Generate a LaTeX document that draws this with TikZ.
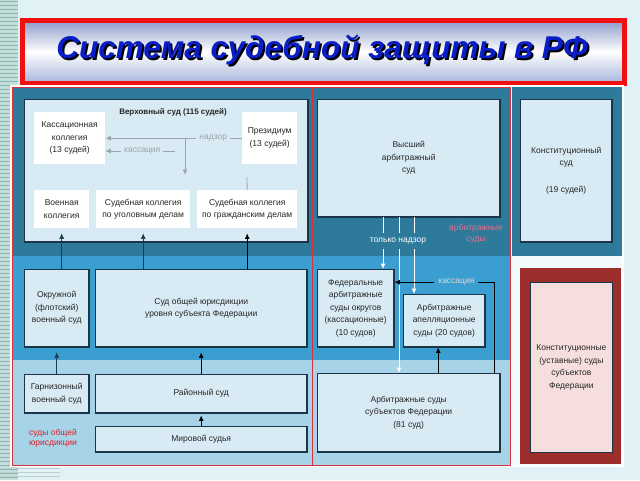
\documentclass[tikz,border=0pt]{standalone}
\usepackage{fontspec}
\setmainfont{Liberation Sans}
\usetikzlibrary{arrows.meta}
\definecolor{bgcyan}{HTML}{E0F2F6}
\definecolor{stripea}{HTML}{C4DEDA}
\definecolor{stripeb}{HTML}{8FB3B0}
\definecolor{bandtop}{HTML}{2D7A9B}
\definecolor{bandmid}{HTML}{3A9FD0}
\definecolor{bandlow}{HTML}{A6D3E8}
\definecolor{palefill}{HTML}{F3FAFC}
\definecolor{boxfill}{HTML}{D8EAF3}
\definecolor{boxline}{HTML}{1A3448}
\definecolor{courtmaroon}{HTML}{9B2D2A}
\definecolor{pinkfill}{HTML}{F6DEDE}
\definecolor{framered}{HTML}{D8303E}
\definecolor{titlered}{HTML}{F01010}
\definecolor{titleblue}{HTML}{0A1EC8}
\definecolor{titletop}{HTML}{8C9CCB}
\definecolor{titlebot}{HTML}{A8B6DC}
\definecolor{greyarrow}{HTML}{9AA4AA}
\definecolor{tealline}{HTML}{183C50}
\definecolor{arbpink}{HTML}{E07090}
\definecolor{obshred}{HTML}{E0202A}
\begin{document}
\begin{tikzpicture}[x=1pt,y=-1pt,>={Latex[length=5.5pt,width=5pt]},
  every node/.style={inner sep=0pt,align=center,text=black!85,font=\fontsize{8.5}{12.5}\selectfont},
  court/.style={anchor=north west,fill=boxfill,draw=boxline,line width=0.4pt,
    path picture={\draw[boxline,line width=2pt] (path picture bounding box.north east)
      -- (path picture bounding box.south east) -- (path picture bounding box.south west);}},
  inner/.style={anchor=north west,fill=white},
  greyline/.style={draw=greyarrow,line width=0.8pt},
  tline/.style={draw=tealline,line width=0.6pt},
  bline/.style={draw=black,line width=0.8pt},
  wline/.style={draw=white,line width=0.8pt}]
\useasboundingbox (0,0) rectangle (640,480);
\fill[bgcyan] (0,0) rectangle (640,480);
% striped edge
\fill[stripea] (0,0) rectangle (18,480);
\foreach \y in {1,5,...,480} \draw[stripeb,line width=1pt] (0,\y) -- (18,\y);
\foreach \y in {468,472,476} \draw[stripeb!60,line width=1pt] (0,\y) -- (60,\y);

% title
\draw[titlered,line width=5pt,top color=titletop,bottom color=titlebot,middle color=white]
  (22.5,20.5) rectangle (624.5,83);
\node[font=\bfseries\itshape\fontsize{31.5}{34}\selectfont,text=black] (titleshd) at (324,52) {Система судебной защиты в РФ};
\node[font=\bfseries\itshape\fontsize{31.5}{34}\selectfont,text=titleblue] (title) at (322,50) {Система судебной защиты в РФ};

% bands
\fill[white] (10,85) rectangle (624,467);
\fill[bandtop] (12,87) rectangle (510,256);
\fill[bandmid] (12,256) rectangle (510,360);
\fill[bandlow] (12,360) rectangle (510,465);
\fill[bandtop] (512,87) rectangle (622,256);
\fill[palefill] (512,256) rectangle (622,465);
\draw[framered,line width=0.8pt] (12,87) rectangle (312,465);
\draw[framered,line width=0.8pt] (312,87) rectangle (510,465);

% general jurisdiction
\node[court,minimum width=284pt,minimum height=143pt] (vs) at (24,99) {};
\node[font=\bfseries\fontsize{8}{10}\selectfont] (vstitle) at (173,112) {Верховный суд (115 судей)};
\node[inner,minimum width=71pt,minimum height=52pt] (kass) at (34,112) {Кассационная\\коллегия\\(13 судей)};
\node[inner,minimum width=55pt,minimum height=52pt] (prez) at (242,112) {Президиум\\(13 судей)};
\node[inner,minimum width=55pt,minimum height=38pt] (voenk) at (34,190) {Военная\\коллегия};
\node[inner,minimum width=94pt,minimum height=38pt] (ugol) at (96,190) {Судебная коллегия\\по уголовным делам};
\node[inner,minimum width=100pt,minimum height=38pt] (grazh) at (197,190) {Судебная коллегия\\по гражданским делам};
\node[court,minimum width=65pt,minimum height=78pt] (okr) at (24,269) {Окружной\\(флотский)\\военный суд};
\node[court,minimum width=212pt,minimum height=78pt] (sojsub) at (95,269) {Суд общей юрисдикции\\уровня субъекта Федерации};
\node[court,minimum width=65pt,minimum height=39pt] (garn) at (24,374) {Гарнизонный\\военный суд};
\node[court,minimum width=212pt,minimum height=39pt] (rayon) at (95,374) {Районный суд};
\node[court,minimum width=212pt,minimum height=26pt] (mir) at (95,426) {Мировой судья};
\node[text=obshred,font=\fontsize{8.5}{10.5}\selectfont] (obshl) at (53,438) {суды общей\\юрисдикции};

\draw[greyline,->] (prez.west) -- (kass.east)
  node[pos=0.21,fill=boxfill,inner xsep=3pt,inner ysep=2pt,text=greyarrow] {надзор};
\coordinate (nbr) at (185,138);
\coordinate (nend) at (185,175);
\draw[greyline,->] (nbr) -- (nend);
\coordinate (kst) at (175,151);
\draw[greyline,->] (kst) -- (kst -| kass.east)
  node[pos=0.47,fill=boxfill,inner xsep=3pt,inner ysep=2pt,text=greyarrow] {кассация};
\coordinate (pz) at (247,177);
\draw[greyline] (pz) -- (grazh.north);
\draw[tline,->] (voenk.south |- okr.north) -- ([yshift=-5pt]voenk.south);
\draw[tline,->] (ugol.south |- sojsub.north) -- ([yshift=-5pt]ugol.south);
\draw[bline,->] (grazh.south |- sojsub.north) -- ([yshift=-5pt]grazh.south);
\draw[tline,->] (garn.north) -- ([yshift=-5pt]okr.south);
\draw[bline,->] (rayon.north) -- ([yshift=-5pt]sojsub.south);
\draw[bline,->] (mir.north) -- ([yshift=-2pt]rayon.south);

% arbitration courts
\node[court,minimum width=183pt,minimum height=118pt] (vas) at (317,99) {Высший\\арбитражный\\суд};
\node[court,minimum width=77pt,minimum height=78pt] (fas) at (317,269) {Федеральные\\арбитражные\\суды округов\\(кассационные)\\(10 судов)};
\node[court,minimum width=82pt,minimum height=53pt] (aas) at (403,294) {Арбитражные\\апелляционные\\суды (20 судов)};
\node[court,minimum width=183pt,minimum height=79pt] (assub) at (317,373) {Арбитражные суды\\субъектов Федерации\\(81 суд)};
\node[text=arbpink,font=\fontsize{8.5}{10.5}\selectfont] (arbl) at (476,234) {арбитражные\\суды};

\coordinate (w1) at (383,217);
\coordinate (w2) at (399,217);
\coordinate (w3) at (414,217);
\draw[wline,->] (w1) -- (w1 |- fas.north);
\draw[wline,->] (w2) -- (w2 |- assub.north);
\draw[wline,->] (w3) -- (w3 |- aas.north);
\node[fill=bandtop,text=white,inner xsep=3pt,inner ysep=5pt] (onlynadz) at (398,241) {только надзор};
\draw[bline,->] ([xshift=-6pt]assub.north east) |- ([yshift=26pt]fas.east)
  node[pos=0.69,fill=bandmid,inner xsep=4pt,inner ysep=2pt,text=white!85!black] {кассация};
\coordinate (aab) at ([xshift=-6pt]aas.south);
\draw[bline,->] (aab |- assub.north) -- (aab);

% constitutional courts
\node[court,minimum width=92pt,minimum height=143pt] (ks) at (520,99) {Конституционный\\суд\\[14pt](19 судей)};
\node[anchor=north west,fill=courtmaroon,minimum width=101pt,minimum height=196pt] (ksubfr) at (520,268) {};
\node[anchor=north west,fill=pinkfill,draw=boxline,line width=0.8pt,minimum width=82pt,minimum height=170pt] (ksub) at (530,282) {Конституционные\\(уставные) суды\\субъектов\\Федерации};
\end{tikzpicture}
\end{document}
